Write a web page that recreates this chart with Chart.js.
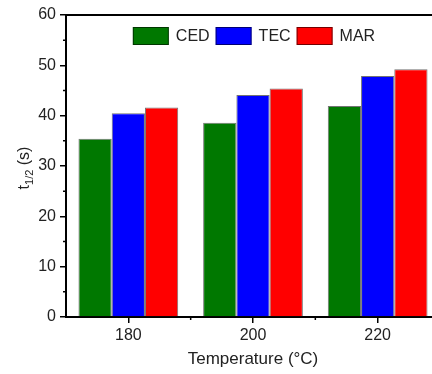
<!DOCTYPE html>
<html>
<head>
<meta charset="utf-8">
<script src="https://cdn.jsdelivr.net/npm/chart.js@4.4.1/dist/chart.umd.min.js"></script>
<style>
    html, body { margin: 0; padding: 0; background: #fff; overflow: hidden; }
    #wrap { width: 450px; height: 374px; }
</style>
</head>
<body>
<div id="wrap"><canvas id="chart"></canvas></div>
<script>
// Data
const temperatures = ['180', '200', '220'];
const cedValues = [35.4, 38.6, 41.9];
const tecValues = [40.5, 44.1, 47.9];
const marValues = [41.6, 45.4, 49.2];
const yTicks = [0, 10, 20, 30, 40, 50, 60];

const FONT = 'Liberation Sans, Arial, sans-serif';

// Frame, minor ticks, legend and the y title with subscript
const framePlugin = {
    id: 'frame',
    afterDraw(chart) {
        const {ctx, chartArea, scales} = chart;
        ctx.save();
        // the plot runs past the right edge of the picture; keep the cut-off strip blank
        ctx.fillStyle = '#fff';
        ctx.fillRect(429.5, chartArea.top, chart.width, chartArea.bottom - chartArea.top - 1);

        ctx.strokeStyle = '#000';
        ctx.lineWidth = 2;
        ctx.beginPath();
        ctx.moveTo(chartArea.left, chartArea.top);
        ctx.lineTo(chartArea.right, chartArea.top);
        ctx.stroke();

        // minor ticks
        ctx.lineWidth = 1.5;
        ctx.beginPath();
        for (let v = 5; v < 60; v += 10) {
            const y = scales.y.getPixelForValue(v);
            ctx.moveTo(chartArea.left - 3, y);
            ctx.lineTo(chartArea.left, y);
        }
        for (let i = 0; i < temperatures.length - 1; i++) {
            const x = (scales.x.getPixelForValue(i) + scales.x.getPixelForValue(i + 1)) / 2;
            ctx.moveTo(x, chartArea.bottom);
            ctx.lineTo(x, chartArea.bottom + 3);
        }
        ctx.stroke();

        // legend inside the plot
        ctx.font = '16px ' + FONT;
        ctx.textBaseline = 'middle';
        const items = chart.data.datasets.map(ds => ({
            label: ds.label, color: ds.backgroundColor, w: ctx.measureText(ds.label).width
        }));
        const boxW = 36, boxH = 18, gap = 7, spacing = 6;
        const total = items.reduce((s, it) => s + boxW + gap + it.w, 0) + spacing * (items.length - 1);
        let lx = 254 - total / 2;
        const ly = chartArea.top + 12;
        items.forEach(it => {
            ctx.fillStyle = it.color;
            ctx.fillRect(lx, ly, boxW, boxH);
            ctx.lineWidth = 1;
            ctx.strokeStyle = 'rgba(0,0,0,0.55)';
            ctx.strokeRect(lx + 0.5, ly + 0.5, boxW - 1, boxH - 1);
            ctx.fillStyle = '#222';
            ctx.fillText(it.label, lx + boxW + gap, ly + boxH / 2 + 1);
            lx += boxW + gap + it.w + spacing;
        });

        // y title: t1/2 (s)
        ctx.translate(29, (chartArea.top + chartArea.bottom) / 2 + 2);
        ctx.rotate(-Math.PI / 2);
        ctx.fillStyle = '#222';
        ctx.textBaseline = 'alphabetic';
        const big = '16px ' + FONT, small = '11px ' + FONT;
        ctx.font = big;
        const wT = ctx.measureText('t').width;
        const wS = ctx.measureText(' (s)').width;
        ctx.font = small;
        const wSub = ctx.measureText('1/2').width;
        let x = -(wT + wSub + wS) / 2;
        ctx.font = big;
        ctx.fillText('t', x, 0);
        x += wT;
        ctx.font = small;
        ctx.fillText('1/2', x, 4);
        x += wSub;
        ctx.font = big;
        ctx.fillText(' (s)', x, 0);
        ctx.restore();
    }
};

const ctx = document.getElementById('chart').getContext('2d');
new Chart(ctx, {
    type: 'bar',
    data: {
        labels: temperatures,
        datasets: [
            { label: 'CED', data: cedValues, backgroundColor: '#007800', borderColor: 'rgba(0,0,0,0.55)', borderWidth: 1 },
            { label: 'TEC', data: tecValues, backgroundColor: '#0000ff', borderColor: 'rgba(0,0,0,0.55)', borderWidth: 1 },
            { label: 'MAR', data: marValues, backgroundColor: '#ff0000', borderColor: 'rgba(0,0,0,0.55)', borderWidth: 1 }
        ]
    },
    options: {
        responsive: true,
        maintainAspectRatio: false,
        animation: false,
        layout: { padding: { top: 15, right: 10, left: 0, bottom: 0 } },
        datasets: { bar: { categoryPercentage: 0.8, barPercentage: 1.0 } },
        plugins: {
            legend: { display: false },
            tooltip: { enabled: false }
        },
        scales: {
            x: {
                grid: { display: true, offset: false, drawOnChartArea: false, tickLength: 6, color: '#000', lineWidth: 1.5 },
                border: { display: true, color: '#000', width: 2 },
                ticks: { color: '#222', padding: 3, font: { family: FONT, size: 16 } },
                title: { display: true, text: 'Temperature (°C)', color: '#222', padding: { top: 11 }, font: { family: FONT, size: 17 } },
                afterFit: scale => { scale.height = 57; }
            },
            y: {
                min: 0,
                max: 60,
                afterBuildTicks: scale => { scale.ticks = yTicks.map(v => ({ value: v })); },
                grid: { display: true, drawOnChartArea: false, tickLength: 6, color: '#000', lineWidth: 1.5 },
                border: { display: true, color: '#000', width: 2 },
                ticks: { color: '#222', padding: 4, font: { family: FONT, size: 16 } },
                afterFit: scale => { scale.width = 66; }
            }
        }
    },
    plugins: [framePlugin]
});
</script>
</body>
</html>
